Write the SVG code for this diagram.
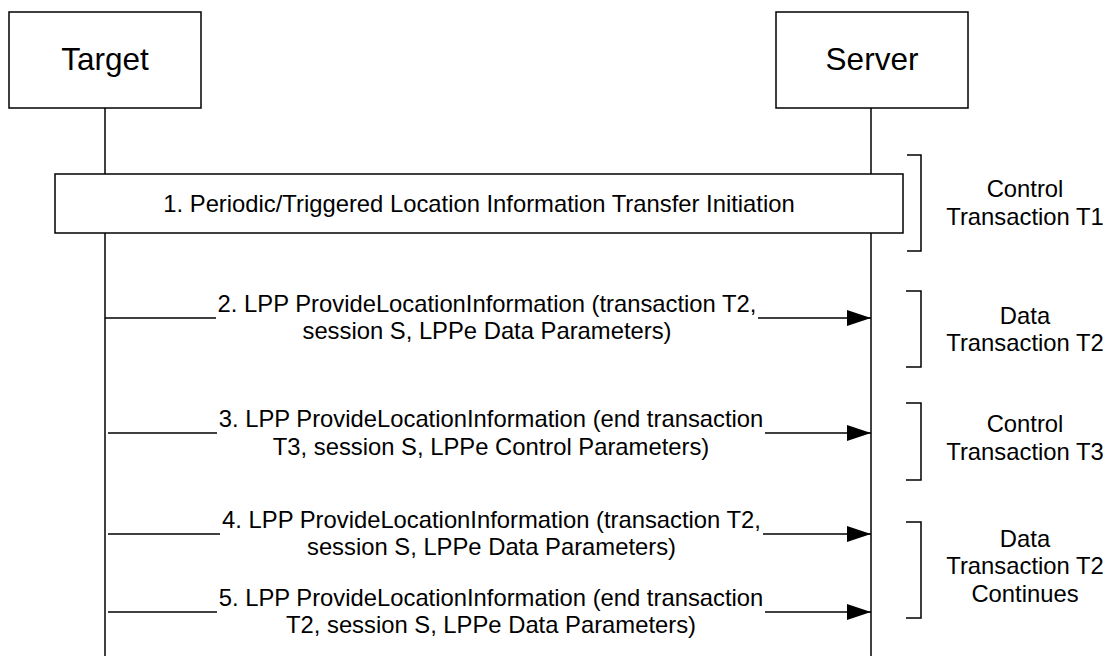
<svg xmlns="http://www.w3.org/2000/svg" width="1107" height="656" viewBox="0 0 1107 656">
<style>
.box{fill:#fff;stroke:#000;stroke-width:1.5}
.ln{fill:none;stroke:#000;stroke-width:1.5}
.t{font-family:"Liberation Sans",Arial,sans-serif;fill:#000;text-anchor:middle}
.big{font-size:31.5px}
.s{font-size:23.8px}
</style>
<defs>
<marker id="ah" markerUnits="userSpaceOnUse" markerWidth="24" markerHeight="16" refX="24" refY="8" orient="auto">
<path d="M0,0 L24,8 L0,16 z" fill="#000"/>
</marker>
</defs>
<rect width="1107" height="656" fill="#fff"/>
<g id="lifelines">
<line class="ln" x1="105" y1="108" x2="105" y2="656"/>
<line class="ln" x1="871" y1="108" x2="871" y2="656"/>
</g>
<g id="target">
<rect class="box" x="9" y="12" width="192" height="96"/>
<text class="t big" x="105" y="70">Target</text>
</g>
<g id="server">
<rect class="box" x="776" y="12" width="192" height="96"/>
<text class="t big" x="872" y="70">Server</text>
</g>
<g id="step1">
<rect class="box" x="55" y="174" width="848" height="59"/>
<text class="t s" x="479" y="212">1. Periodic/Triggered Location Information Transfer Initiation</text>
</g>
<g id="connectors">
<line class="ln" x1="105" y1="318" x2="216" y2="318"/>
<line class="ln" x1="758" y1="318" x2="871" y2="318" marker-end="url(#ah)"/>
<line class="ln" x1="108" y1="433" x2="217" y2="433"/>
<line class="ln" x1="765" y1="433" x2="871" y2="433" marker-end="url(#ah)"/>
<line class="ln" x1="108" y1="534" x2="220" y2="534"/>
<line class="ln" x1="763" y1="534" x2="871" y2="534" marker-end="url(#ah)"/>
<line class="ln" x1="108" y1="612" x2="217" y2="612"/>
<line class="ln" x1="765" y1="612" x2="871" y2="612" marker-end="url(#ah)"/>
</g>
<g id="msg2">
<text class="t s" x="487" y="312">2. LPP ProvideLocationInformation (transaction T2,</text>
<text class="t s" x="487" y="339">session S, LPPe Data Parameters)</text>
</g>
<g id="msg3">
<text class="t s" x="491" y="427">3. LPP ProvideLocationInformation (end transaction</text>
<text class="t s" x="491" y="455">T3, session S, LPPe Control Parameters)</text>
</g>
<g id="msg4">
<text class="t s" x="491.5" y="528">4. LPP ProvideLocationInformation (transaction T2,</text>
<text class="t s" x="491.5" y="555">session S, LPPe Data Parameters)</text>
</g>
<g id="msg5">
<text class="t s" x="491" y="606">5. LPP ProvideLocationInformation (end transaction</text>
<text class="t s" x="491" y="633">T2, session S, LPPe Data Parameters)</text>
</g>
<g id="bracket-t1">
<path class="ln" d="M907,155 H921 V251 H907"/>
<text class="t s" x="1025" y="197">Control</text>
<text class="t s" x="1025" y="225">Transaction T1</text>
</g>
<g id="bracket-t2">
<path class="ln" d="M906,291 H921 V367 H906"/>
<text class="t s" x="1025" y="324">Data</text>
<text class="t s" x="1025" y="351">Transaction T2</text>
</g>
<g id="bracket-t3">
<path class="ln" d="M906,403 H921 V480 H906"/>
<text class="t s" x="1025" y="432">Control</text>
<text class="t s" x="1025" y="460">Transaction T3</text>
</g>
<g id="bracket-t2c">
<path class="ln" d="M906,522 H921 V618 H906"/>
<text class="t s" x="1025" y="547">Data</text>
<text class="t s" x="1025" y="574">Transaction T2</text>
<text class="t s" x="1025" y="602">Continues</text>
</g>
</svg>
